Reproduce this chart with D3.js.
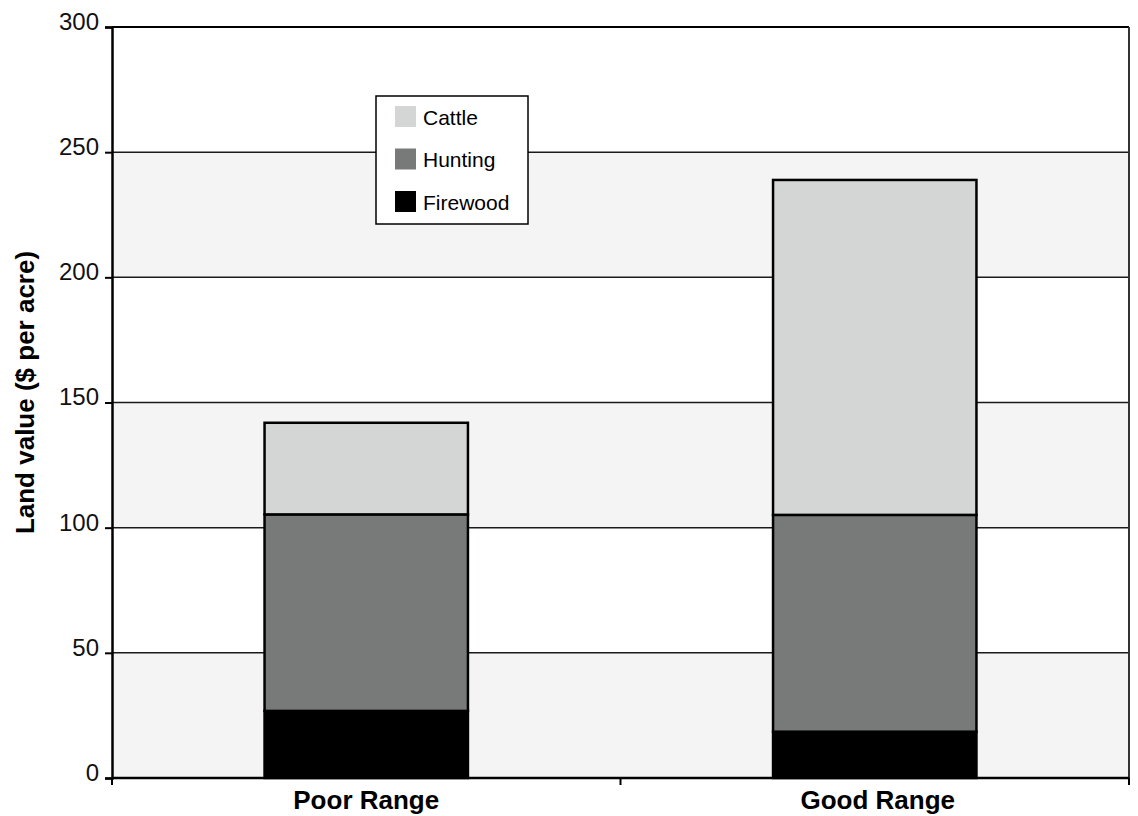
<!DOCTYPE html>
<html>
<head>
<meta charset="utf-8">
<script src="https://cdn.jsdelivr.net/npm/d3@7/dist/d3.min.js"></script>
<style>
  html, body { margin: 0; padding: 0; background: #fff; }
  svg { display: block; font-family: "Liberation Sans", Arial, sans-serif; }
</style>
</head>
<body>
<svg id="chart" width="1138" height="816"></svg>
<script>
// Land value by range condition, stacked by income source ($ per acre)
const categories = ["Poor Range", "Good Range"];
const seriesNames = ["Firewood", "Hunting", "Cattle"];
const firewood = [26.8, 18.5];
const hunting = [78.5, 86.6];
const cattle = [36.6, 133.8];
const yTicks = [0, 50, 100, 150, 200, 250, 300];
const colors = { Firewood: "#000000", Hunting: "#787a79", Cattle: "#d4d6d5" };

const svg = d3.select("#chart");
const margin = { left: 112, right: 9, top: 27, bottom: 38 };
const W = 1138, H = 816;
const x0 = margin.left, x1 = W - margin.right;
const yTop = margin.top, yBot = H - margin.bottom;

const x = d3.scaleBand().domain(categories).range([x0, x1])
  .paddingInner(0.6).paddingOuter(0.3);
const y = d3.scaleLinear().domain([0, 300]).range([yBot, yTop]);

// Alternating horizontal bands
const bands = d3.pairs(yTicks).filter((d, i) => i % 2 === 0);
svg.append("g").selectAll("rect").data(bands).join("rect")
  .attr("x", x0).attr("width", x1 - x0)
  .attr("y", d => y(d[1])).attr("height", d => y(d[0]) - y(d[1]))
  .attr("fill", "#f4f4f4");

// Gridlines
svg.append("g").selectAll("line").data(yTicks.slice(1)).join("line")
  .attr("x1", x0).attr("x2", x1)
  .attr("y1", d => y(d)).attr("y2", d => y(d))
  .attr("stroke", d => d === 300 ? "#000" : "#1a1a1a")
  .attr("stroke-width", d => d === 300 ? 2 : 1.5);

// Right border
svg.append("line").attr("x1", x1).attr("x2", x1).attr("y1", yTop).attr("y2", yBot)
  .attr("stroke", "#333").attr("stroke-width", 2);

// Stacked bars
const rows = categories.map((c, i) => ({ category: c, Firewood: firewood[i], Hunting: hunting[i], Cattle: cattle[i] }));
const stacked = d3.stack().keys(seriesNames)(rows);
svg.append("g").selectAll("g").data(stacked).join("g")
  .attr("fill", d => colors[d.key])
  .selectAll("rect").data(d => d).join("rect")
  .attr("x", d => x(d.data.category))
  .attr("width", x.bandwidth())
  .attr("y", d => y(d[1]))
  .attr("height", d => y(d[0]) - y(d[1]))
  .attr("stroke", "#000").attr("stroke-width", 2.5);

// Y axis
const yAxis = svg.append("g").attr("transform", `translate(${x0},0)`)
  .call(d3.axisLeft(y).tickValues(yTicks).tickSize(7).tickPadding(6));
yAxis.select(".domain").attr("stroke", "#000").attr("stroke-width", 2.5);
yAxis.selectAll(".tick line").attr("stroke", "#000").attr("stroke-width", 2);
yAxis.selectAll(".tick text")
  .attr("font-size", 24).attr("fill", "#111")
  .attr("font-family", "'Liberation Sans', Arial, sans-serif")
  .attr("dy", "0.1em");

// X axis with ticks at category boundaries
const xAxisG = svg.append("g").attr("transform", `translate(0,${yBot})`);
xAxisG.append("line").attr("x1", x0).attr("x2", x1).attr("y1", 0).attr("y2", 0)
  .attr("stroke", "#000").attr("stroke-width", 2.5);
const edges = [x0, (x0 + x1) / 2, x1];
xAxisG.selectAll("line.tk").data(edges).join("line").attr("class", "tk")
  .attr("x1", d => d).attr("x2", d => d).attr("y1", 0).attr("y2", 7)
  .attr("stroke", "#000").attr("stroke-width", 2);
xAxisG.selectAll("text").data(categories).join("text")
  .attr("x", d => x(d) + x.bandwidth() / 2 + (d === "Good Range" ? 3 : 0))
  .attr("y", 31)
  .attr("text-anchor", "middle")
  .attr("font-size", 26).attr("font-weight", "bold").attr("fill", "#000")
  .text(d => d);

// Y axis title
svg.append("text")
  .attr("transform", `translate(34,${(250 + 535) / 2}) rotate(-90)`)
  .attr("text-anchor", "middle")
  .attr("font-size", 26).attr("font-weight", "bold").attr("fill", "#000")
  .text("Land value ($ per acre)");

// Legend
const legend = svg.append("g");
legend.append("rect").attr("x", 376).attr("y", 96).attr("width", 152).attr("height", 128)
  .attr("fill", "#fff").attr("stroke", "#000").attr("stroke-width", 1.5);
const legendOrder = ["Cattle", "Hunting", "Firewood"];
const item = legend.selectAll("g.item").data(legendOrder).join("g").attr("class", "item")
  .attr("transform", (d, i) => `translate(395,${106 + i * 42.5})`);
item.append("rect").attr("width", 21).attr("height", 21).attr("fill", d => colors[d]);
item.append("text").attr("x", 28).attr("y", 18.5)
  .attr("font-size", 21).attr("fill", "#000").text(d => d);
</script>
</body>
</html>
